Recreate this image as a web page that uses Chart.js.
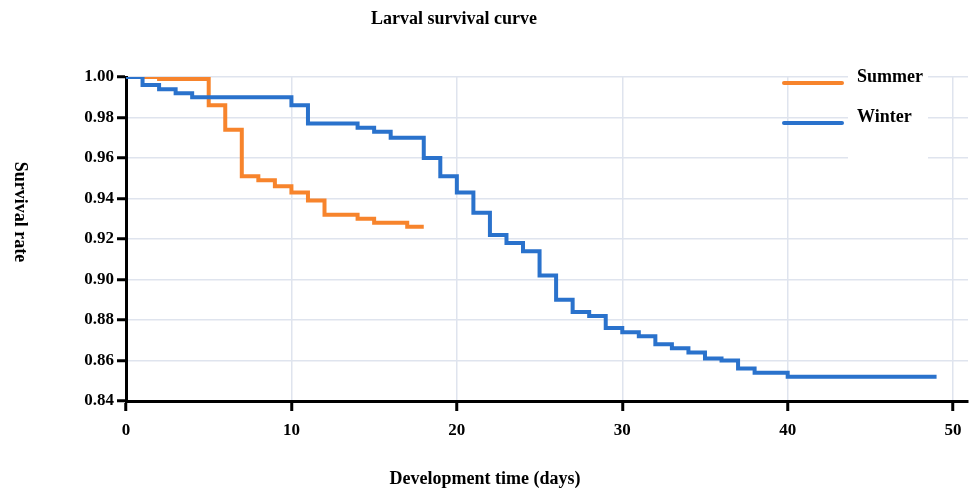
<!DOCTYPE html>
<html>
<head>
<meta charset="utf-8">
<title>Larval survival curve</title>
<script src="https://cdn.jsdelivr.net/npm/chart.js@4.4.1/dist/chart.umd.min.js"></script>
<style>
    body { margin: 0; background: #fff; }
    #wrap { width: 975px; height: 488px; }
</style>
</head>
<body>
<div id="wrap"><canvas id="survChart" width="975" height="488"></canvas></div>
<script>
// Kaplan-Meier steps (day, survival rate)
var summerDays = [0, 2, 5, 6, 7, 8, 9, 10, 11, 12, 14, 15, 17, 18];
var summerRate = [1.000, 0.999, 0.986, 0.974, 0.951, 0.949, 0.946, 0.943, 0.939, 0.932, 0.930, 0.928, 0.926, 0.926];

var winterDays = [0, 1, 2, 3, 4, 10, 11, 14, 15, 16, 18, 19, 20, 21, 22, 23, 24, 25, 26, 27, 28, 29, 30, 31, 32, 33, 34, 35, 36, 37, 38, 40, 49];
var winterRate = [1.000, 0.996, 0.994, 0.992, 0.990, 0.986, 0.977, 0.975, 0.973, 0.970, 0.960, 0.951, 0.943, 0.933, 0.922, 0.918, 0.914, 0.902, 0.890, 0.884, 0.882, 0.876, 0.874, 0.872, 0.868, 0.866, 0.864, 0.861, 0.860, 0.856, 0.854, 0.852, 0.852];

var xTicks = [0, 10, 20, 30, 40, 50];
var seriesNames = ['Summer', 'Winter'];
var seriesColors = ['#f7842c', '#2a72cc'];

var SERIF = '"Liberation Serif", "Times New Roman", serif';
var GRID = '#dfe4ee';

function toPoints(xs, ys) {
    var pts = [];
    for (var i = 0; i < xs.length; i++) {
        pts.push({ x: xs[i], y: ys[i] });
    }
    return pts;
}

// titles and the boxed legend, drawn by hand like the original figure
var labelsPlugin = {
    id: 'labels',
    afterDatasetsDraw: function (chart) {
        var ctx = chart.ctx;
        ctx.save();
        ctx.fillStyle = '#000';
        ctx.textAlign = 'center';
        ctx.textBaseline = 'middle';

        ctx.font = 'bold 18px ' + SERIF;
        ctx.fillText('Larval survival curve', 454, 19);
        ctx.fillText('Development time (days)', 485, 479);

        ctx.save();
        ctx.translate(20, 212);
        ctx.rotate(Math.PI / 2);
        ctx.font = 'bold 18px ' + SERIF;
        ctx.fillText('Survival rate', 0, 0);
        ctx.restore();

        // legend
        ctx.fillStyle = '#fff';
        ctx.fillRect(848, 60, 80, 108);
        var rowY = [77, 117];
        ctx.lineWidth = 4;
        ctx.lineCap = 'round';
        ctx.font = 'bold 18px ' + SERIF;
        ctx.textAlign = 'left';
        for (var i = 0; i < seriesNames.length; i++) {
            ctx.strokeStyle = seriesColors[i];
            ctx.beginPath();
            ctx.moveTo(784, rowY[i] + 6);
            ctx.lineTo(842, rowY[i] + 6);
            ctx.stroke();
            ctx.fillStyle = '#000';
            ctx.fillText(seriesNames[i], 857, rowY[i]);
        }
        ctx.restore();
    }
};

var ctx = document.getElementById('survChart').getContext('2d');
var survChart = new Chart(ctx, {
    type: 'line',
    data: {
        datasets: [
            {
                label: seriesNames[0],
                data: toPoints(summerDays, summerRate),
                borderColor: seriesColors[0],
                borderWidth: 4,
                stepped: 'before',
                pointRadius: 0,
                fill: false,
                order: 1
            },
            {
                label: seriesNames[1],
                data: toPoints(winterDays, winterRate),
                borderColor: seriesColors[1],
                borderWidth: 4,
                stepped: 'before',
                pointRadius: 0,
                fill: false,
                order: 0
            }
        ]
    },
    options: {
        responsive: false,
        animation: false,
        layout: { padding: { left: 0, right: 7, top: 77, bottom: 0 } },
        plugins: {
            legend: { display: false },
            title: { display: false },
            tooltip: { enabled: false }
        },
        scales: {
            x: {
                type: 'linear',
                min: 0,
                max: 50.9,
                afterBuildTicks: function (scale) {
                    scale.ticks = xTicks.map(function (v) { return { value: v }; });
                },
                afterFit: function (scale) { scale.height = 87; },
                border: { display: true, color: '#000', width: 3 },
                grid: { color: GRID, lineWidth: 1.5, tickColor: '#000', tickWidth: 3, tickLength: 10 },
                ticks: {
                    color: '#000',
                    padding: 9,
                    maxRotation: 0,
                    font: { family: SERIF, size: 17, weight: 'bold' }
                }
            },
            y: {
                min: 0.84,
                max: 1.0,
                afterFit: function (scale) { scale.width = 126; },
                border: { display: true, color: '#000', width: 3 },
                grid: { color: GRID, lineWidth: 1.5, tickColor: '#000', tickWidth: 3, tickLength: 9 },
                ticks: {
                    stepSize: 0.02,
                    color: '#000',
                    padding: 3,
                    font: { family: SERIF, size: 17, weight: 'bold' },
                    callback: function (v) { return v.toFixed(2); }
                }
            }
        }
    },
    plugins: [labelsPlugin]
});
</script>
</body>
</html>
